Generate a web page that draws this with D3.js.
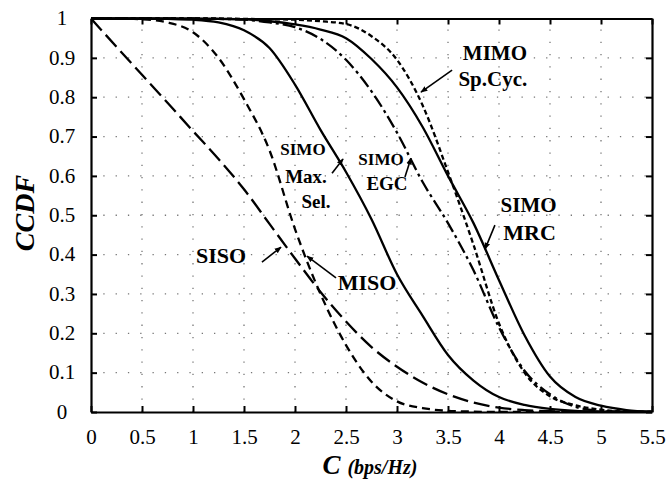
<!DOCTYPE html>
<html>
<head>
<meta charset="utf-8">
<script src="https://cdn.jsdelivr.net/npm/d3@7"></script>
<style>
  html, body { margin: 0; padding: 0; background: #fff; }
  svg { display: block; }
</style>
</head>
<body>
<svg id="chart" width="669" height="481"></svg>
<script>
// ---------------- data ----------------
const capacity = [0, 0.25, 0.5, 0.75, 1, 1.25, 1.5, 1.75, 2, 2.25, 2.5, 2.75, 3, 3.25, 3.5, 3.75, 4, 4.25, 4.5, 4.75, 5, 5.25, 5.5];
const sisoCCDF   = [1, 0.928, 0.857, 0.786, 0.714, 0.643, 0.566, 0.478, 0.39, 0.305, 0.23, 0.165, 0.115, 0.075, 0.045, 0.024, 0.011, 0.005, 0.002, 0.001, 0, 0, 0];
const misoCCDF   = [1, 1, 0.998, 0.99, 0.965, 0.90, 0.795, 0.665, 0.465, 0.30, 0.17, 0.077, 0.027, 0.01, 0.003, 0.001, 0, 0, 0, 0, 0, 0, 0];
const maxSelCCDF = [1, 1, 1, 0.999, 0.997, 0.99, 0.97, 0.925, 0.832, 0.717, 0.61, 0.49, 0.35, 0.245, 0.145, 0.08, 0.038, 0.018, 0.008, 0.003, 0.001, 0, 0];
const egcCCDF    = [1, 1, 1, 1, 1, 0.999, 0.997, 0.99, 0.978, 0.948, 0.895, 0.815, 0.71, 0.585, 0.48, 0.36, 0.215, 0.105, 0.045, 0.013, 0.003, 0.001, 0];
const mrcCCDF    = [1, 1, 1, 1, 1, 0.999, 0.998, 0.993, 0.985, 0.972, 0.95, 0.897, 0.825, 0.725, 0.6, 0.48, 0.335, 0.195, 0.09, 0.038, 0.016, 0.005, 0.001];
const mimoCCDF   = [1, 1, 1, 1, 1, 1, 0.999, 0.998, 0.997, 0.993, 0.986, 0.955, 0.895, 0.78, 0.61, 0.425, 0.225, 0.1, 0.04, 0.017, 0.006, 0.001, 0];

const xTicks = [0, 0.5, 1, 1.5, 2, 2.5, 3, 3.5, 4, 4.5, 5, 5.5];
const xTickLabels = ["0", "0.5", "1", "1.5", "2", "2.5", "3", "3.5", "4", "4.5", "5", "5.5"];
const yTicks = [0, 0.1, 0.2, 0.3, 0.4, 0.5, 0.6, 0.7, 0.8, 0.9, 1];
const yTickLabels = ["0", "0.1", "0.2", "0.3", "0.4", "0.5", "0.6", "0.7", "0.8", "0.9", "1"];

// ---------------- styles ----------------
const FONT = "'Liberation Serif', 'Times New Roman', serif";
const seriesStyle = [
  { values: sisoCCDF,   dash: "16,6" },
  { values: misoCCDF,   dash: "8,5" },
  { values: maxSelCCDF, dash: null },
  { values: egcCCDF,    dash: "13,4,3,4" },
  { values: mrcCCDF,    dash: null },
  { values: mimoCCDF,   dash: "5,3" }
];

// annotation positions in data units (C, CCDF)
const labels = [
  { t: "MIMO",    c: 3.96, p: 0.894, s: 21 },
  { t: "Sp.Cyc.", c: 3.94, p: 0.828, s: 21 },
  { t: "SIMO",    c: 4.29, p: 0.508, s: 21 },
  { t: "MRC",     c: 4.30, p: 0.437, s: 22 },
  { t: "SIMO",    c: 2.843, p: 0.628, s: 17 },
  { t: "EGC",     c: 2.902, p: 0.564, s: 19 },
  { t: "SIMO",    c: 2.078, p: 0.653, s: 17 },
  { t: "Max.",    c: 2.108, p: 0.582, s: 19 },
  { t: "Sel.",    c: 2.206, p: 0.518, s: 19 },
  { t: "SISO",    c: 1.275, p: 0.379, s: 22 },
  { t: "MISO",    c: 2.706, p: 0.310, s: 22 }
];
const arrows = [
  { c0: 3.54, p0: 0.869, c1: 3.235, p1: 0.813 },
  { c0: 3.96, p0: 0.475, c1: 3.863, p1: 0.414 },
  { c0: 3.078, p0: 0.597, c1: 3.137, p1: 0.645 },
  { c0: 2.363, p0: 0.607, c1: 2.471, p1: 0.643 },
  { c0: 1.676, p0: 0.381, c1: 1.863, p1: 0.419 },
  { c0: 2.402, p0: 0.341, c1: 2.118, p1: 0.396 }
];

// ---------------- drawing ----------------
const svg = d3.select("#chart");
const x = d3.scaleLinear().domain([0, 5.5]).range([91, 652]);
const y = d3.scaleLinear().domain([0, 1]).range([412, 18.5]);

// grid
const grid = svg.append("g").attr("stroke", "#777").attr("stroke-width", 1.3)
  .attr("stroke-dasharray", "1.3,11").attr("fill", "none");
xTicks.filter(v => v > 0 && v < 5.5).forEach(v => {
  grid.append("line").attr("x1", x(v)).attr("x2", x(v)).attr("y1", y(0)).attr("y2", y(1));
});
yTicks.filter(v => v > 0 && v < 1).forEach(v => {
  grid.append("line").attr("x1", x(0)).attr("x2", x(5.5)).attr("y1", y(v)).attr("y2", y(v));
});

// clip
svg.append("clipPath").attr("id", "plotclip").append("rect")
  .attr("x", x(0)).attr("y", y(1) - 2).attr("width", x(5.5) - x(0)).attr("height", y(0) - y(1) + 2);

const line = d3.line()
  .x((d, i) => x(capacity[i]))
  .y(d => y(d))
  .curve(d3.curveMonotoneX);

const curves = svg.append("g").attr("clip-path", "url(#plotclip)");
seriesStyle.forEach(s => {
  curves.append("path")
    .attr("d", line(s.values))
    .attr("fill", "none")
    .attr("stroke", "#000")
    .attr("stroke-width", 2.3)
    .attr("stroke-dasharray", s.dash)
    .attr("stroke-linejoin", "round");
});

// axes
function styleAxis(g) {
  g.attr("font-family", null);
  g.selectAll("path.domain").attr("stroke", "#000").attr("stroke-width", 2.2);
  g.selectAll(".tick line").attr("stroke", "#000").attr("stroke-width", 2);
}
const axB = svg.append("g").attr("transform", `translate(0,${y(0)})`)
  .call(d3.axisBottom(x).tickValues(xTicks).tickFormat((d, i) => xTickLabels[i]).tickSize(-6).tickSizeOuter(0));
styleAxis(axB);
axB.selectAll("text").attr("font-size", 21).attr("fill", "#000")
  .style("font-family", FONT).attr("dy", "0.71em").attr("y", 17);

const axT = svg.append("g").attr("transform", `translate(0,${y(1)})`)
  .call(d3.axisTop(x).tickValues(xTicks).tickFormat("").tickSize(-6).tickSizeOuter(0));
styleAxis(axT);

const axL = svg.append("g").attr("transform", `translate(${x(0)},0)`)
  .call(d3.axisLeft(y).tickValues(yTicks).tickFormat((d, i) => yTickLabels[i]).tickSize(-6).tickSizeOuter(0));
styleAxis(axL);
axL.selectAll("text").attr("font-size", 21).attr("fill", "#000")
  .style("font-family", FONT)
  .attr("text-anchor", "middle").attr("x", -29).attr("dy", "0.3em");

const axR = svg.append("g").attr("transform", `translate(${x(5.5)},0)`)
  .call(d3.axisRight(y).tickValues(yTicks).tickFormat("").tickSize(-6).tickSizeOuter(0));
styleAxis(axR);

// axis titles
const xt = svg.append("text").attr("x", 370).attr("y", 474).attr("text-anchor", "middle")
  .style("font-family", FONT)
  .attr("font-weight", "bold").attr("font-style", "italic").attr("fill", "#000");
xt.append("tspan").attr("font-size", 27).text("C ");
xt.append("tspan").attr("font-size", 20).text("(bps/Hz)");

svg.append("text").attr("transform", "translate(34,213) rotate(-90)")
  .style("font-family", FONT)
  .attr("text-anchor", "middle").attr("font-size", 28)
  .attr("font-weight", "bold").attr("font-style", "italic").attr("fill", "#000")
  .text("CCDF");

// annotations
svg.append("defs").append("marker").attr("id", "ah")
  .attr("viewBox", "0 0 10 10").attr("refX", 9).attr("refY", 5)
  .attr("markerWidth", 7).attr("markerHeight", 7).attr("markerUnits", "userSpaceOnUse")
  .attr("orient", "auto")
  .append("path").attr("d", "M0,1 L10,5 L0,9 Z").attr("fill", "#000");

svg.append("g").selectAll("text").data(labels).join("text")
  .attr("x", d => x(d.c)).attr("y", d => y(d.p))
  .style("font-family", FONT)
  .attr("text-anchor", "middle").attr("font-weight", "bold")
  .attr("font-size", d => d.s).attr("fill", "#000")
  .text(d => d.t);

svg.append("g").selectAll("line").data(arrows).join("line")
  .attr("x1", d => x(d.c0)).attr("y1", d => y(d.p0))
  .attr("x2", d => x(d.c1)).attr("y2", d => y(d.p1))
  .attr("stroke", "#000").attr("stroke-width", 1.6)
  .attr("marker-end", "url(#ah)");
</script>
</body>
</html>
